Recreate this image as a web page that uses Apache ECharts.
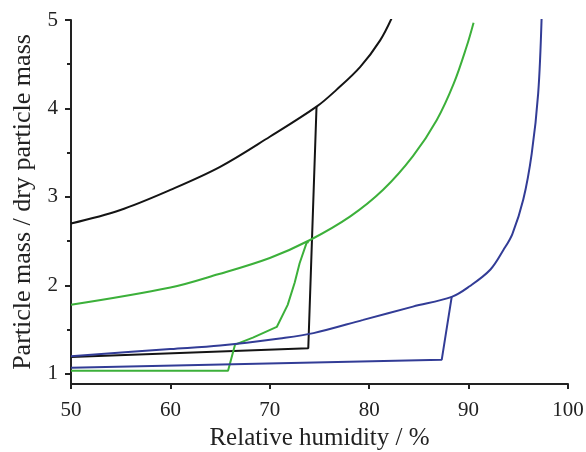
<!DOCTYPE html>
<html>
<head>
<meta charset="utf-8">
<script src="https://cdn.jsdelivr.net/npm/echarts@6/dist/echarts.min.js"></script>
<style>html,body{margin:0;padding:0;background:#fff}#c{width:586px;height:452px}</style>
</head>
<body>
<div id="c"></div>
<script>
// Tick values
var xTicks = [50, 60, 70, 80, 90, 100];
var yTicks = [1, 2, 3, 4, 5];
var yMinorTicks = [1.5, 2.5, 3.5, 4.5];

// Black (upper branch and efflorescence/deliquescence loop)
var blackUpperX = [50, 54.9, 60.0, 65.0, 70.0, 74.7, 76.7, 79.1, 81.1, 82.3];
var blackUpperY = [2.70, 2.85, 3.08, 3.34, 3.68, 4.02, 4.21, 4.47, 4.77, 5.03];
var blackLowerX = [50, 73.87, 74.7];
var blackLowerY = [1.19, 1.29, 4.02];

// Green
var greenUpperX = [50, 60, 64.8, 70, 74.0, 78.1, 81.4, 84.4, 86.8, 88.5, 89.8, 90.5];
var greenUpperY = [1.78, 1.975, 2.125, 2.31, 2.51, 2.78, 3.08, 3.46, 3.87, 4.28, 4.70, 4.97];
var greenLowerX = [50, 65.8, 66.5, 68.3, 70.7, 71.8, 72.5, 73.0, 73.7, 73.9];
var greenLowerY = [1.034, 1.034, 1.33, 1.41, 1.53, 1.78, 2.03, 2.25, 2.48, 2.49];

// Blue
var blueUpperX = [50, 60, 65, 71.0, 74.4, 79.4, 84.4, 88.3, 90.1, 92.2, 93.5, 94.4, 95.5, 96.35, 97.0, 97.35];
var blueUpperY = [1.20, 1.28, 1.32, 1.40, 1.46, 1.61, 1.76, 1.87, 1.99, 2.18, 2.40, 2.58, 2.97, 3.49, 4.17, 5.04];
var blueLowerX = [50, 87.3, 88.3];
var blueLowerY = [1.07, 1.16, 1.87];

function pairs(xs, ys) { return xs.map(function (x, i) { return [x, ys[i]]; }); }

var BLACK = '#141414', GREEN = '#3cb03a', BLUE = '#323c96';
var FONT = 'Liberation Serif';

function line(name, xs, ys, color, smooth) {
  return {
    name: name, type: 'line', data: pairs(xs, ys), showSymbol: false, symbol: 'none',
    smooth: smooth ? 0.35 : false,
    lineStyle: { color: color, width: 2 }, silent: true, z: 3
  };
}

var chart = echarts.init(document.getElementById('c'), null, { renderer: 'canvas' });
chart.setOption({
  animation: false,
  backgroundColor: '#fff',
  grid: { left: 71, right: 18, top: 20, bottom: 68, containLabel: false, outerBoundsMode: 'none' },
  xAxis: {
    type: 'value', min: 50, max: 100, interval: 10,
    name: 'Relative humidity / %', nameLocation: 'middle', nameGap: 40,
    nameTextStyle: { fontFamily: FONT, fontSize: 25, color: '#222' },
    axisLine: { show: true, lineStyle: { color: '#222', width: 2 } },
    axisTick: { show: true, inside: false, length: 5, lineStyle: { color: '#222', width: 2 } },
    axisLabel: { fontFamily: FONT, fontSize: 21, color: '#222', margin: 16, customValues: xTicks },
    splitLine: { show: false }
  },
  yAxis: [{
    type: 'value', min: 0.885, max: 5,
    name: 'Particle mass / dry particle mass', nameLocation: 'middle', nameGap: 34,
    nameTextStyle: { fontFamily: FONT, fontSize: 26, color: '#222' },
    axisLine: { show: true, onZero: false, lineStyle: { color: '#222', width: 2 } },
    axisTick: { show: true, length: 6, customValues: yTicks, lineStyle: { color: '#222', width: 2 } },
    axisLabel: { fontFamily: FONT, fontSize: 21, color: '#222', margin: 13, customValues: yTicks },
    splitLine: { show: false }
  }, {
    type: 'value', min: 0.885, max: 5, position: 'left',
    axisLine: { show: false },
    axisTick: { show: true, length: 4, customValues: yMinorTicks, lineStyle: { color: '#222', width: 2 } },
    axisLabel: { show: false },
    splitLine: { show: false }
  }],
  series: [
    line('blackUpper', blackUpperX, blackUpperY, BLACK, true),
    line('blackLower', blackLowerX, blackLowerY, BLACK, false),
    line('greenUpper', greenUpperX, greenUpperY, GREEN, true),
    line('greenLower', greenLowerX, greenLowerY, GREEN, false),
    line('blueUpper', blueUpperX, blueUpperY, BLUE, true),
    line('blueLower', blueLowerX, blueLowerY, BLUE, false)
  ]
});
</script>
</body>
</html>
